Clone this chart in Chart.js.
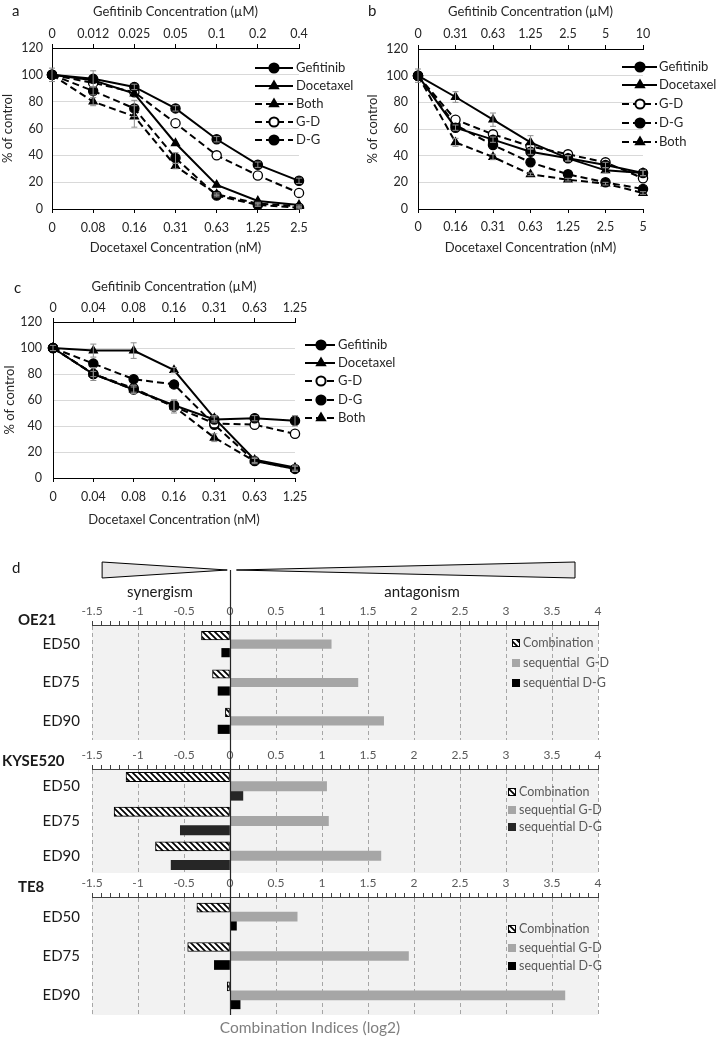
<!DOCTYPE html>
<html><head><meta charset="utf-8">
<script src="https://cdn.jsdelivr.net/npm/chart.js@4.4.1/dist/chart.umd.min.js"></script>
<style>
html,body{margin:0;padding:0;background:#fff;}
body{width:716px;height:1040px;position:relative;overflow:hidden;font-family:Lato,"Open Sans",sans-serif;}
canvas{position:absolute;}
.t{position:absolute;white-space:nowrap;color:#1a1a1a;line-height:1;transform:translate(-50%,-50%);}
.l{position:absolute;white-space:nowrap;color:#1a1a1a;line-height:1;transform:translateY(-50%);}
</style></head><body>
<canvas id="ca" width="360" height="262" style="left:0;top:0"></canvas>
<canvas id="cb" width="356" height="262" style="left:360px;top:0"></canvas>
<canvas id="cc" width="420" height="262" style="left:0;top:270px"></canvas>
<canvas id="d1" width="716" height="193" style="left:0;top:555px"></canvas>
<canvas id="d2" width="716" height="130" style="left:0;top:748px"></canvas>
<canvas id="d3" width="716" height="162" style="left:0;top:878px"></canvas>

<div class="l" style="left:12px;top:10px;font-size:15px">a</div>
<div class="l" style="left:368px;top:10px;font-size:15px">b</div>
<div class="l" style="left:14px;top:287px;font-size:15px">c</div>
<div class="l" style="left:12px;top:567px;font-size:15px">d</div>
<div class="t" style="left:160px;top:591px;font-size:15px">synergism</div>
<div class="t" style="left:422px;top:591px;font-size:15px">antagonism</div>
<div class="l" style="left:18px;top:619px;font-size:15px;font-weight:bold">OE21</div>
<div class="l" style="left:2px;top:760px;font-size:15px;font-weight:bold">KYSE520</div>
<div class="l" style="left:18px;top:886px;font-size:15px;font-weight:bold">TE8</div>
<div class="t" style="left:310px;top:1028px;font-size:15.5px;color:#7f7f7f">Combination Indices (log2)</div>

<script>
// ---------- DATA ----------
// panel a
const aDocetaxelLabels = ['0','0.08','0.16','0.31','0.63','1.25','2.5'];
const aGefitinibLabels = ['0','0.012','0.025','0.05','0.1','0.2','0.4'];
const aGefitinib = [100, 97, 91, 75, 52, 33, 21];
const aDocetaxel = [100, 96, 86, 49, 18, 6, 3];
const aBoth      = [100, 80, 69, 32, 11, 4, 2];
const aGD        = [100, 94, 87, 64, 40, 25, 12];
const aDG        = [100, 88, 75, 38, 10, 3, 1];
const aGefitinibErr = [5, 6, 2, 2, 2, 2, 2];
const aBothErr      = [0, 3, 8, 2, 1, 1, 1];
const aDGErr        = [0, 3, 6, 4, 1, 1, 1];

// panel b
const bDocetaxelLabels = ['0','0.16','0.31','0.63','1.25','2.5','5'];
const bGefitinibLabels = ['0','0.31','0.63','1.25','2.5','5','10'];
const bGefitinib = [100, 61, 52, 43, 38, 33, 27];
const bDocetaxel = [100, 84, 67, 50, 38, 29, 27];
const bGD        = [100, 67, 56, 47, 41, 35, 23];
const bDG        = [100, 63, 48, 35, 26, 20, 15];
const bBoth      = [100, 50, 39, 26, 22, 19, 12];
const bGefitinibErr = [5, 2, 2, 2, 2, 2, 2];
const bDocetaxelErr = [0, 4, 5, 5, 2, 2, 2];
const bBothErr      = [0, 3, 2, 1, 1, 1, 1];

// panel c
const cDocetaxelLabels = ['0','0.04','0.08','0.16','0.31','0.63','1.25'];
const cGefitinibLabels = ['0','0.04','0.08','0.16','0.31','0.63','1.25'];
const cGefitinib = [100, 80, 68, 56, 45, 46, 44];
const cDocetaxel = [100, 98, 98, 83, 46, 14, 8];
const cGD        = [100, 80, 69, 55, 42, 41, 34];
const cDG        = [100, 88, 76, 72, 41, 13, 7];
const cBoth      = [100, 80, 68, 55, 31, 13, 7];
const cGefitinibErr = [2, 5, 3, 4, 2, 2, 4];
const cDocetaxelErr = [0, 5, 6, 2, 2, 2, 2];
const cBothErr      = [0, 2, 2, 5, 3, 2, 2];

// panel d (log2 combination indices)
const edLabels = ['ED50','ED75','ED90'];
const oe21Comb = [-0.31, -0.19, -0.05];
const oe21GD   = [1.10, 1.39, 1.67];
const oe21DG   = [-0.09, -0.13, -0.13];
const kyseComb = [-1.13, -1.26, -0.81];
const kyseGD   = [1.05, 1.07, 1.64];
const kyseDG   = [0.14, -0.54, -0.64];
const te8Comb  = [-0.36, -0.46, -0.03];
const te8GD    = [0.73, 1.94, 3.64];
const te8DG    = [0.07, -0.17, 0.11];
const ciMin = -1.5, ciMax = 4, ciMajor = 0.5, ciMinor = 0.1;

// ---------- STYLES ----------
Chart.defaults.font.family = 'Lato, "Open Sans", sans-serif';
Chart.defaults.color = '#262626';
const DASH = [7, 4];
const STYLES = {
  'Gefitinib': {dash: [],   point: 'circle',   fill: '#000'},
  'Docetaxel': {dash: [],   point: 'triangle', fill: '#000'},
  'Both':      {dash: DASH, point: 'triangle', fill: '#000'},
  'G-D':       {dash: DASH, point: 'circle',   fill: '#fff'},
  'D-G':       {dash: DASH, point: 'circle',   fill: '#000'}
};

const errorBars = {
  id: 'errorBars',
  afterDatasetsDraw(chart) {
    const ctx = chart.ctx, y = chart.scales.y;
    chart.data.datasets.forEach((ds, i) => {
      if (!ds.errors) return;
      const meta = chart.getDatasetMeta(i);
      ds.errors.forEach((e, j) => {
        if (!e) return;
        const px = meta.data[j].x;
        const t = y.getPixelForValue(ds.data[j] + e), b = y.getPixelForValue(ds.data[j] - e);
        ctx.save();
        ctx.strokeStyle = '#8c8c8c'; ctx.lineWidth = 1;
        ctx.beginPath();
        ctx.moveTo(px, t); ctx.lineTo(px, b);
        ctx.moveTo(px - 3, t); ctx.lineTo(px + 3, t);
        ctx.moveTo(px - 3, b); ctx.lineTo(px + 3, b);
        ctx.stroke(); ctx.restore();
      });
    });
  }
};

const lineLegend = {
  id: 'lineLegend',
  afterDraw(chart, args, o) {
    const ctx = chart.ctx;
    chart.data.datasets.forEach((ds, i) => {
      const y = o.ys[i];
      ctx.save();
      ctx.strokeStyle = '#000'; ctx.lineWidth = 2; ctx.setLineDash(ds.borderDash || []);
      ctx.beginPath(); ctx.moveTo(o.x1, y); ctx.lineTo(o.x2, y); ctx.stroke();
      ctx.setLineDash([]);
      ctx.fillStyle = ds.pointBackgroundColor; ctx.strokeStyle = '#000';
      Chart.helpers.drawPoint(ctx, {pointStyle: ds.pointStyle, radius: ds.pointRadius, rotation: 0, borderWidth: ds.pointBorderWidth}, o.mx, y);
      ctx.fillStyle = '#262626'; ctx.font = '13px Lato, "Open Sans", sans-serif';
      ctx.textBaseline = 'middle'; ctx.textAlign = 'left';
      ctx.fillText(ds.label, o.tx, y);
      ctx.restore();
    });
  }
};

function makeLine(id, p) {
  const datasets = p.series.map(s => ({
    label: s.name, data: s.values, errors: s.errors,
    borderColor: '#000', borderWidth: 2, borderDash: STYLES[s.name].dash,
    pointStyle: STYLES[s.name].point, pointRadius: 4.6, pointHoverRadius: 4.6,
    pointBackgroundColor: STYLES[s.name].fill, pointBorderColor: '#000', pointBorderWidth: 1.3,
    tension: 0, fill: false
  }));
  const tickFont = {size: 12.5};
  const noPad = s => { s.paddingTop = 0; s.paddingBottom = 0; s.paddingLeft = 0; s.paddingRight = 0; };
  return new Chart(document.getElementById(id), {
    type: 'line',
    data: {labels: p.bottomLabels, datasets},
    options: {
      responsive: false, animation: false, devicePixelRatio: 1,
      layout: {padding: {left: 0, right: p.padRight, top: 0, bottom: 0}, autoPadding: false},
      plugins: {legend: {display: false}, tooltip: {enabled: false}, lineLegend: p.legend},
      scales: {
        x: {
          type: 'category', position: 'bottom', offset: false,
          grid: {drawOnChartArea: false, tickLength: 4, tickColor: '#000'},
          border: {color: '#000', width: 1},
          ticks: {padding: p.bTickPad, font: tickFont, color: '#262626', autoSkip: false, maxRotation: 0},
          title: {display: true, text: 'Docetaxel Concentration (nM)', font: {size: 13}, color: '#262626', padding: {top: 0, bottom: p.bTitlePad}},
          afterFit: s => { s.height = p.bottomH; noPad(s); }
        },
        x2: {
          type: 'category', position: 'top', labels: p.topLabels, offset: false,
          grid: {drawOnChartArea: false, tickLength: 4, tickColor: '#000'},
          border: {color: '#000', width: 1},
          ticks: {padding: p.tTickPad, font: tickFont, color: '#262626', autoSkip: false, maxRotation: 0},
          title: {display: true, text: 'Gefitinib Concentration (\u00b5M)', font: {size: 13}, color: '#262626', padding: {top: p.tTitlePad, bottom: 0}},
          afterFit: s => { s.height = p.topH; noPad(s); }
        },
        y: {
          min: 0, max: 120,
          ticks: {stepSize: 20, padding: p.yTickPad, font: tickFont, color: '#262626'},
          grid: {color: '#d9d9d9', drawTicks: false},
          border: {color: '#000', width: 1},
          title: {display: true, text: '% of control', font: {size: 13}, color: '#262626', padding: {top: p.yTitlePad, bottom: 0}},
          afterFit: s => { s.width = p.yW; noPad(s); }
        }
      }
    },
    plugins: [errorBars, lineLegend]
  });
}

makeLine('ca', {
  bottomLabels: aDocetaxelLabels, topLabels: aGefitinibLabels,
  series: [
    {name: 'Gefitinib', values: aGefitinib, errors: aGefitinibErr},
    {name: 'Docetaxel', values: aDocetaxel},
    {name: 'Both', values: aBoth, errors: aBothErr},
    {name: 'G-D', values: aGD},
    {name: 'D-G', values: aDG, errors: aDGErr}
  ],
  padRight: 61, yW: 52, topH: 48, bottomH: 53,
  bTickPad: 7, bTitlePad: 6, tTickPad: 3, tTitlePad: 4, yTickPad: 9, yTitlePad: 0,
  legend: {x1: 255, x2: 293, mx: 274, tx: 296, ys: [68, 86, 104, 122, 140]}
});

makeLine('cb', {
  bottomLabels: bDocetaxelLabels, topLabels: bGefitinibLabels,
  series: [
    {name: 'Gefitinib', values: bGefitinib, errors: bGefitinibErr},
    {name: 'Docetaxel', values: bDocetaxel, errors: bDocetaxelErr},
    {name: 'G-D', values: bGD},
    {name: 'D-G', values: bDG},
    {name: 'Both', values: bBoth, errors: bBothErr}
  ],
  padRight: 73, yW: 58, topH: 49, bottomH: 53,
  bTickPad: 6, bTitlePad: 6, tTickPad: 4, tTitlePad: 4, yTickPad: 10, yTitlePad: 5,
  legend: {x1: 262, x2: 297, mx: 280, tx: 299, ys: [67, 85, 104, 123, 142]}
});

makeLine('cc', {
  bottomLabels: cDocetaxelLabels, topLabels: cGefitinibLabels,
  series: [
    {name: 'Gefitinib', values: cGefitinib, errors: cGefitinibErr},
    {name: 'Docetaxel', values: cDocetaxel, errors: cDocetaxelErr},
    {name: 'G-D', values: cGD},
    {name: 'D-G', values: cDG},
    {name: 'Both', values: cBoth, errors: cBothErr}
  ],
  padRight: 125, yW: 53, topH: 52, bottomH: 54,
  bTickPad: 7, bTitlePad: 4, tTickPad: 3, tTitlePad: 9, yTickPad: 11, yTitlePad: 2,
  legend: {x1: 305, x2: 335, mx: 321, tx: 338, ys: [75, 93, 111, 130, 148]}
});

// ---------- panel d ----------
function hatchPattern() {
  const c = document.createElement('canvas'); c.width = 6; c.height = 6;
  const g = c.getContext('2d');
  g.fillStyle = '#fff'; g.fillRect(0, 0, 6, 6);
  g.strokeStyle = '#000'; g.lineWidth = 1.7;
  g.beginPath();
  g.moveTo(-1, -1); g.lineTo(7, 7);
  g.moveTo(-4, 2); g.lineTo(4, 10);
  g.moveTo(2, -4); g.lineTo(10, 4);
  g.stroke();
  return g.createPattern(c, 'repeat');
}
const HATCH = hatchPattern();
const isMajor = v => Math.abs(v / ciMajor - Math.round(v / ciMajor)) < 1e-6;

const ciDecor = {
  id: 'ciDecor',
  beforeDraw(chart) {
    const {ctx, chartArea: a} = chart;
    ctx.save(); ctx.fillStyle = '#f2f2f2';
    ctx.fillRect(a.left, a.top, a.right - a.left, a.bottom - a.top);
    ctx.restore();
  },
  afterDraw(chart, args, o) {
    const ctx = chart.ctx, x = chart.scales.x;
    if (o.tri) {
      const t = o.tri;
      ctx.save(); ctx.fillStyle = '#e7e6e6'; ctx.strokeStyle = '#000'; ctx.lineWidth = 1;
      ctx.beginPath();
      ctx.moveTo(x.getPixelForValue(t.l0), t.top); ctx.lineTo(x.getPixelForValue(t.l1), t.mid);
      ctx.lineTo(x.getPixelForValue(t.l0), t.bot); ctx.closePath(); ctx.fill(); ctx.stroke();
      ctx.beginPath();
      ctx.moveTo(x.getPixelForValue(t.r1), t.top); ctx.lineTo(x.getPixelForValue(t.r0), t.mid);
      ctx.lineTo(x.getPixelForValue(t.r1), t.bot); ctx.closePath(); ctx.fill(); ctx.stroke();
      ctx.restore();
    }
    const zx = Math.round(x.getPixelForValue(0)) + 0.5;
    ctx.save(); ctx.strokeStyle = '#262626'; ctx.lineWidth = 1.2;
    ctx.beginPath(); ctx.moveTo(zx, o.z0); ctx.lineTo(zx, o.z1 === 'area' ? chart.chartArea.bottom : chart.height); ctx.stroke();
    ctx.restore();
    const L = o.legend;
    chart.data.datasets.forEach((ds, i) => {
      const y = L.ys[i];
      ctx.save();
      ctx.fillStyle = ds.backgroundColor;
      ctx.fillRect(L.ix, y - 4, 8, 8);
      if (ds.borderWidth) { ctx.strokeStyle = '#000'; ctx.lineWidth = 1; ctx.strokeRect(L.ix + 0.5, y - 3.5, 7, 7); }
      ctx.fillStyle = '#595959'; ctx.font = '12.5px Lato, "Open Sans", sans-serif';
      ctx.textBaseline = 'middle'; ctx.fillText(ds.label, L.tx, y);
      ctx.restore();
    });
  }
};

function makeBars(id, p) {
  const noPad = s => { s.paddingTop = 0; s.paddingBottom = 0; s.paddingLeft = 0; s.paddingRight = 0; };
  return new Chart(document.getElementById(id), {
    type: 'bar',
    data: {labels: edLabels, datasets: [
      {label: 'Combination', data: p.comb, backgroundColor: HATCH, borderColor: '#000', borderWidth: 1, borderSkipped: false},
      {label: p.gdLabel, data: p.gd, backgroundColor: '#a6a6a6', borderWidth: 0},
      {label: 'sequential D-G', data: p.dg, backgroundColor: p.dgColor, borderWidth: 0}
    ]},
    options: {
      indexAxis: 'y', responsive: false, animation: false, devicePixelRatio: 1,
      layout: {padding: {left: 0, right: 118, top: 0, bottom: p.padBottom}, autoPadding: false},
      datasets: {bar: {barThickness: p.bt}},
      plugins: {legend: {display: false}, tooltip: {enabled: false}, ciDecor: p.decor},
      scales: {
        x: {
          type: 'linear', position: 'top', min: ciMin, max: ciMax,
          ticks: {stepSize: ciMinor, maxTicksLimit: 100, autoSkip: false, maxRotation: 0, minRotation: 0,
                  padding: 2.5, color: '#595959', font: {size: 12},
                  callback: v => isMajor(v) ? String(Math.round(v * 10) / 10) : ''},
          grid: {color: c => (c.tick && isMajor(c.tick.value)) ? '#a6a6a6' : 'rgba(0,0,0,0)', tickColor: '#404040', tickLength: 4, lineWidth: 1},
          border: {display: true, color: '#404040', dash: [4, 3]},
          afterFit: s => { s.height = p.axisH; noPad(s); }
        },
        y: {
          type: 'category',
          grid: {display: false, drawTicks: false}, border: {display: false},
          ticks: {padding: 12, color: '#1a1a1a', font: {size: 15}},
          afterFit: s => { s.width = 92; noPad(s); }
        }
      }
    },
    plugins: [ciDecor]
  });
}

makeBars('d1', {
  comb: oe21Comb, gd: oe21GD, dg: oe21DG, gdLabel: 'sequential  G-D', dgColor: '#000',
  bt: 8.5, axisH: 70, padBottom: 8,
  decor: {tri: {l0: -1.39, l1: -0.03, r0: 0.07, r1: 3.75, top: 7, mid: 15, bot: 23}, z0: 15, z1: 'canvas',
          legend: {ix: 512, tx: 523, ys: [88, 108, 128]}}
});
makeBars('d2', {
  comb: kyseComb, gd: kyseGD, dg: kyseDG, gdLabel: 'sequential G-D', dgColor: '#262626',
  bt: 9.3, axisH: 21, padBottom: 5,
  decor: {z0: 0, z1: 'canvas', legend: {ix: 508, tx: 519, ys: [44, 62, 79]}}
});
makeBars('d3', {
  comb: te8Comb, gd: te8GD, dg: te8DG, gdLabel: 'sequential G-D', dgColor: '#000',
  bt: 9, axisH: 19, padBottom: 25,
  decor: {z0: 0, z1: 'area', legend: {ix: 508, tx: 519, ys: [51, 70, 88]}}
});
</script>
</body></html>
